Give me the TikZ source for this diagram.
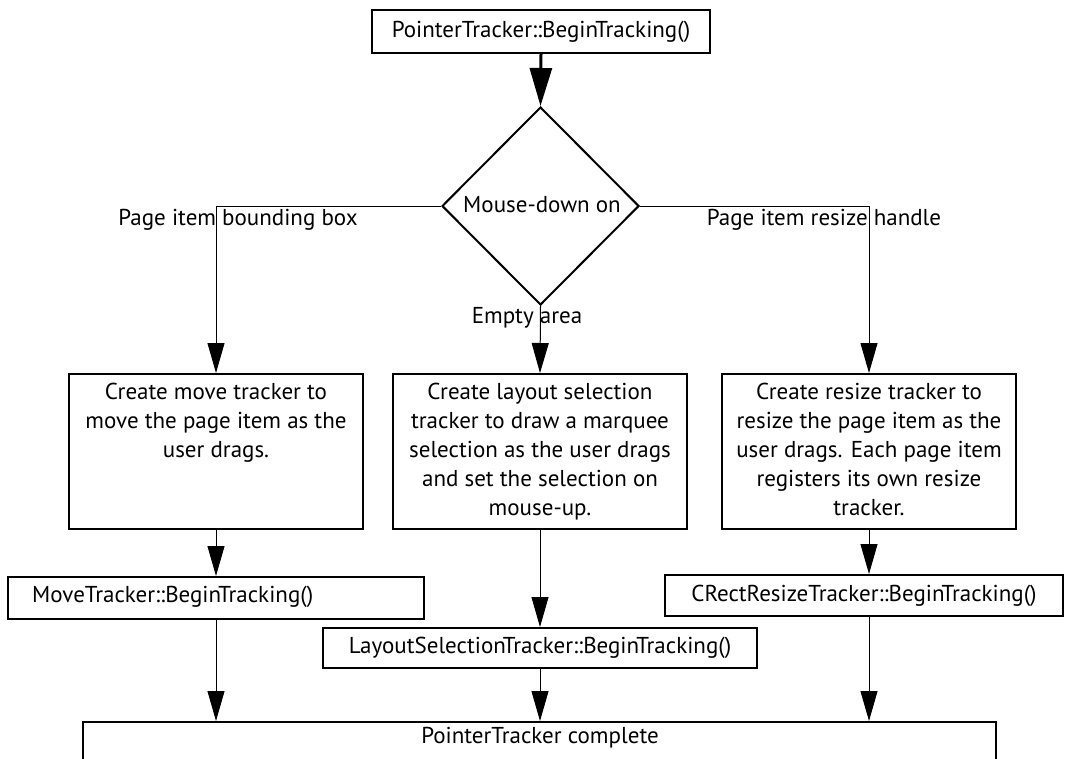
\documentclass[tikz,border=0pt]{standalone}
\usepackage{fontspec}
\setmainfont{PT Sans}
\usetikzlibrary{arrows.meta,shapes.geometric}

\begin{document}
\begin{tikzpicture}[x=1pt,y=-1pt,
  txt/.style={font=\fontsize{23}{29}\selectfont, inner sep=0pt},
  body/.style={txt, align=center, anchor=north},
  frame/.style={draw, line width=2pt, inner sep=0pt, rectangle},
  flow/.style={line width=1pt, -{Triangle[length=30pt,width=17pt]}},
  bigflow/.style={line width=3pt, -{Triangle[length=38pt,width=22pt]}},
  plain/.style={line width=1pt}]

\useasboundingbox[fill=white] (0,0) rectangle (1065,758);
\clip (0,0) rectangle (1065,758);

% start of tracking
\node[frame, txt, minimum width=338pt, minimum height=43pt] (start) at (541,31.5) {PointerTracker::BeginTracking()};

% decision
\node[diamond, draw, line width=2pt, inner sep=0pt, minimum width=197pt, minimum height=198pt] (dec) at (540.5,206) {};
\node[txt] (dectext) at (542,205) {Mouse-down on};

% the three trackers
\node[frame, minimum width=294pt, minimum height=155pt] (move) at (216,451.5) {};
\node[body] (movetext) at (216,383) {Create move tracker to\\move the page item as the\\user drags.};

\node[frame, minimum width=294pt, minimum height=155pt] (lay) at (540,451.5) {};
\node[body] (laytext) at (540,383) {Create layout selection\\tracker to draw a marquee\\selection as the user drags\\and set the selection on\\mouse-up.};

\node[frame, minimum width=294pt, minimum height=155pt] (res) at (869,451.5) {};
\node[body] (restext) at (869,383) {Create resize tracker to\\resize the page item as the\\user drags. Each page item\\registers its own resize\\tracker.};

% BeginTracking calls
\node[frame, minimum width=416pt, minimum height=42pt] (movebt) at (216,598) {};
\node[txt, anchor=west] (movebttext) at (32,597) {MoveTracker::BeginTracking()};

\node[frame, txt, minimum width=434pt, minimum height=40pt] (laybt) at (540,648) {LayoutSelectionTracker::BeginTracking()};

\node[frame, txt, minimum width=398pt, minimum height=41pt] (resbt) at (864,595.5) {CRectResizeTracker::BeginTracking()};

% completion
\node[frame, minimum width=913pt, minimum height=80pt] (done) at (539.5,762) {};
\node[txt] (donetext) at (540,738) {PointerTracker complete};

% connectors
\draw[bigflow] (start.south) -- (dec.north);
\draw[flow] (dec.west) -| (move.north);
\draw[flow] (dec.east) -| (res.north);
\draw[flow] (dec.south) -- (lay.north);

\node[txt] (lblbox) at (238,220) {Page item bounding box};
\node[txt] (lblhandle) at (824,220) {Page item resize handle};
\node[txt] (lblempty) at (527,318) {Empty area};

\draw[flow] (move.south) -- (movebt.north);
\draw[flow] (lay.south) -- (laybt.north);
\draw[flow] (res.south) -- (res.south |- resbt.north);

\draw[flow] (movebt.south) -- (movebt.south |- done.north);
\draw[flow] (laybt.south) -- (laybt.south |- done.north);
\draw[flow] (res.south |- resbt.south) -- (res.south |- done.north);
\end{tikzpicture}
\end{document}
